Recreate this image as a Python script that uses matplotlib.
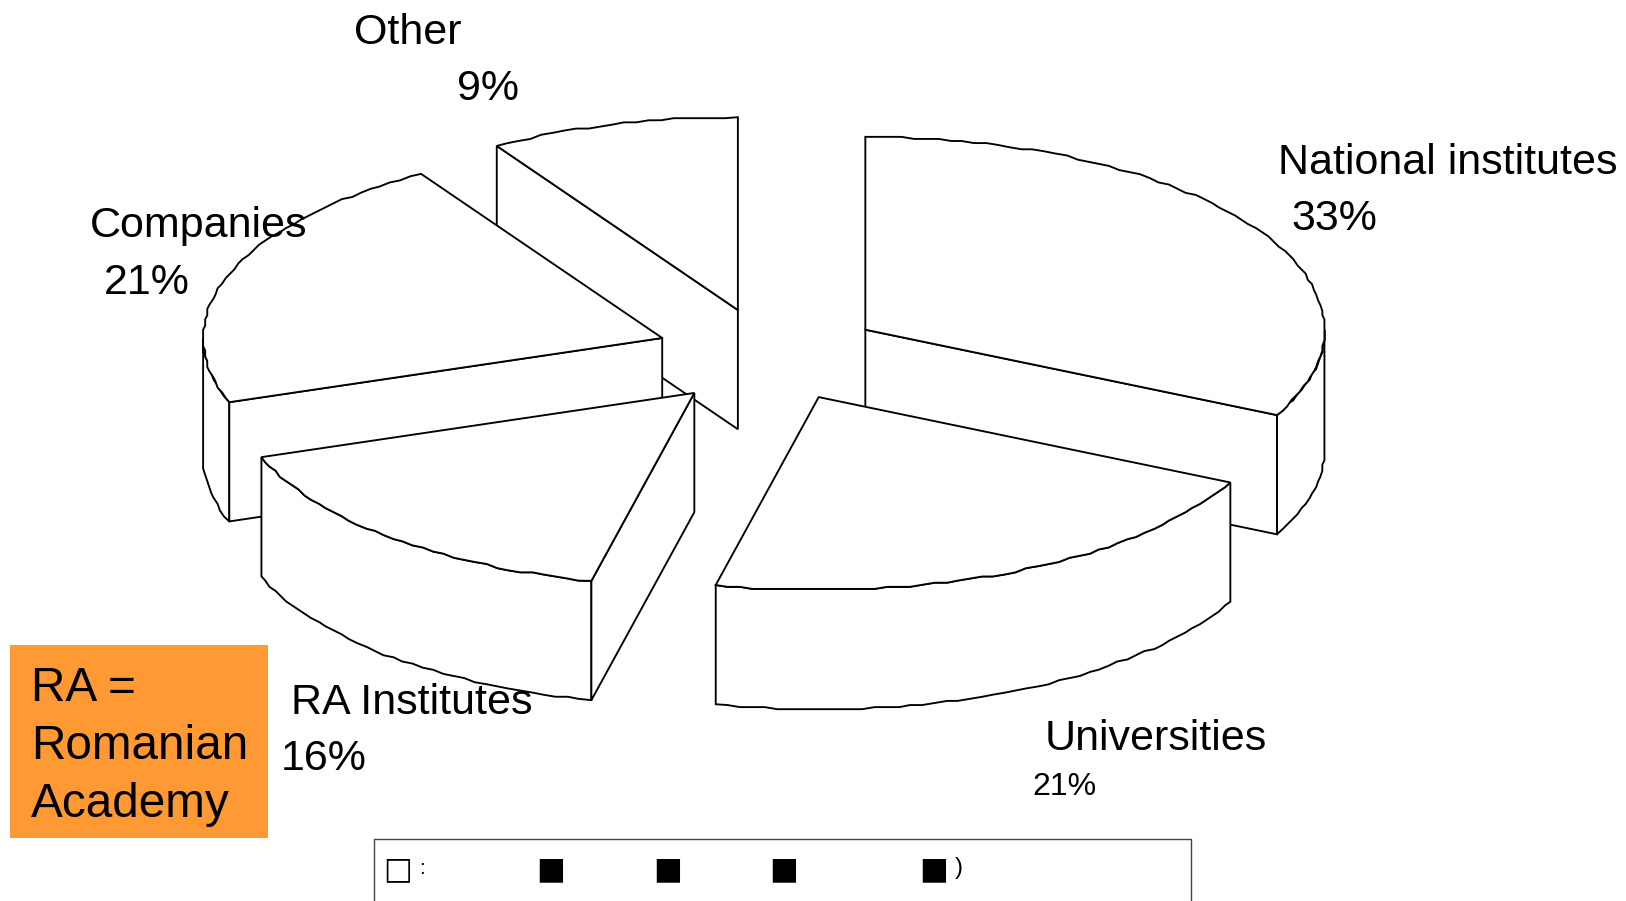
import numpy as np
import matplotlib
matplotlib.use("Agg")
import matplotlib.pyplot as plt
from matplotlib.patches import Polygon, Rectangle

# ---- data ----
categories = ["National institutes", "Universities", "RA Institutes", "Companies", "Other"]
shares = [32.3, 21.3, 16.0, 21.6, 8.8]
pct_labels = ["33%", "21%", "16%", "21%", "9%"]

# ---- layout ----
plt.rcParams['font.family'] = ['Liberation Sans', 'DejaVu Sans']
W, H = 1569, 869
fig = plt.figure(figsize=(16.26, 9.01), dpi=100)
ax = fig.add_axes([0, 0, 1, 1])
ax.set_xlim(0, W)
ax.set_ylim(H, 0)
ax.axis('off')

CX, CY, A, B, DEPTH = 737, 340, 443, 186, 115
LW = 1.35
EXPLODE_XY = [(98, -22), (53, 43), (-67, 39), (-98, -14), (-25, -41)]


def rough(pts, step=2.0):
    """Coarse raster look of the original arc outline."""
    out = pts.copy()
    out[1:-1] = np.round(out[1:-1] / step) * step
    return out


def arc(ox, oy, t0, t1, dy=0.0):
    n = max(int(abs(t1 - t0) / 1.5), 2)
    t = np.radians(np.linspace(t0, t1, n))
    return rough(np.column_stack([ox + A * np.cos(t), oy - B * np.sin(t) + dy]))


def poly(pts, z):
    ax.add_patch(Polygon(pts, closed=True, fc='white', ec='black', lw=LW, zorder=z, joinstyle='miter'))


# Angles run clockwise from the top
edges = 90 - np.cumsum([0] + shares) * 3.6
slices = []
for i in range(len(shares)):
    t0, t1 = edges[i], edges[i + 1]
    ox = CX + EXPLODE_XY[i][0]
    oy = CY + EXPLODE_XY[i][1]
    slices.append((i, t0, t1, ox, oy))

draw_order = [4, 3, 0, 2, 1]
for z, i in enumerate(draw_order):
    _, t0, t1, ox, oy = slices[i]
    base = 2 + z * 0.1
    # outer wall on the front half of the rim
    lo, hi = t1, t0
    for a0, a1 in [(max(lo, -180), min(hi, 0)), (max(lo, 180), min(hi, 360))]:
        if a1 > a0:
            top = arc(ox, oy, a1, a0)
            bot = arc(ox, oy, a0, a1, DEPTH)
            poly(np.vstack([top, bot]), base)
    # cut faces turned to the viewer
    for t, vis in [(t0, np.cos(np.radians(t0)) < -1e-6), (t1, np.cos(np.radians(t1)) > 1e-6)]:
        if vis:
            px = ox + A * np.cos(np.radians(t))
            py = oy - B * np.sin(np.radians(t))
            poly([(ox, oy), (px, py), (px, py + DEPTH), (ox, oy + DEPTH)], base + 0.01)
    # top face
    poly(np.vstack([[(ox, oy)], arc(ox, oy, t0, t1)]), base + 0.02)

# ---- labels ----
label_pos = [(1233, 168, 1246, 222, 31), (1008, 723, 996, 767, 23), (281, 689, 271, 743, 31),
             (87, 229, 100, 284, 31), (342, 42, 441, 96, 31)]
for name, pct, (x1, y1, x2, y2, fs2) in zip(categories, pct_labels, label_pos):
    ax.text(x1, y1, name, fontsize=31, ha='left', va='baseline', zorder=10)
    ax.text(x2, y2, pct, fontsize=fs2, ha='left', va='baseline', zorder=10)

# ---- orange note ----
ax.add_patch(Rectangle((10, 622), 249, 186, fc='#FF9933', ec='none', zorder=11))
for txt, y in zip(["RA =", "Romanian", "Academy"], [676, 732, 788]):
    ax.text(30, y, txt, fontsize=34.4, ha='left', va='baseline', zorder=12)

# ---- clipped legend box ----
ax.plot([361, 361, 1149, 1149], [870, 809, 809, 870], color='#444444', lw=1.0, zorder=5, clip_on=False)
ax.text(384, 839, "\u25a1", fontsize=22, ha='center', va='center', zorder=6, family='DejaVu Sans')
ax.text(404, 843, ":", fontsize=15, ha='left', va='baseline', zorder=6)
for x in [531, 644, 756, 901]:
    ax.text(x, 839, "\u25a0", fontsize=22, ha='center', va='center', zorder=6, family='DejaVu Sans')
ax.text(921, 843, ")", fontsize=17, ha='left', va='baseline', zorder=6)

fig.savefig("out.png", dpi=100, facecolor='white')
